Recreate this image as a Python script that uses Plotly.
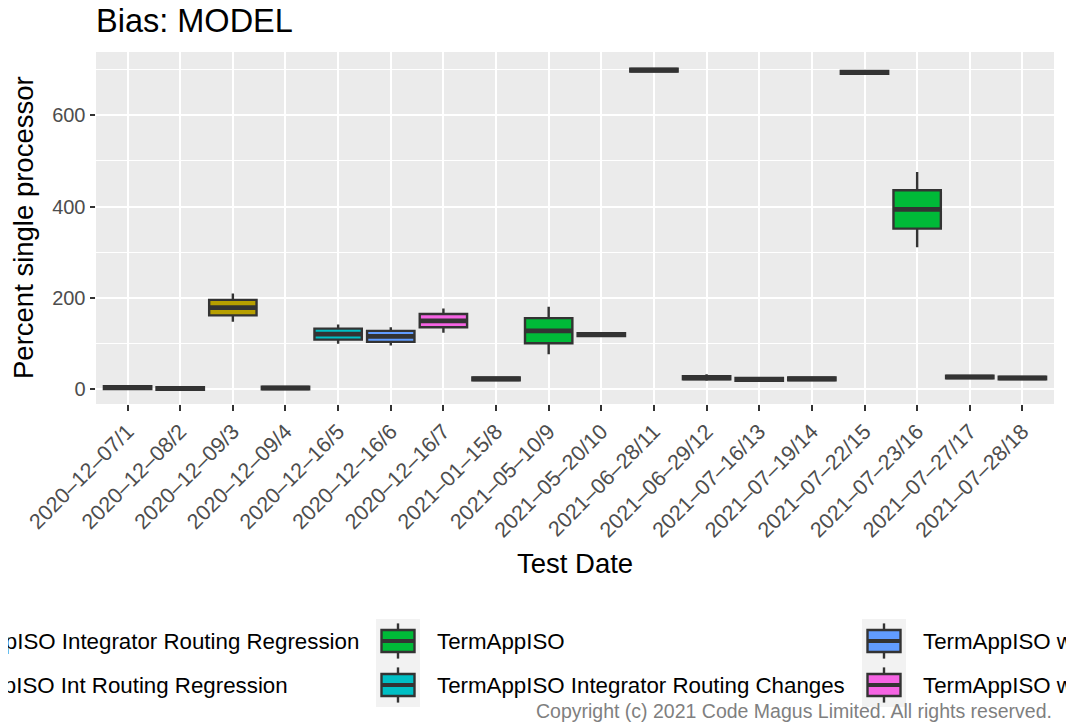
"""
Bias: MODEL - box plot of percent single processor per test date
"""
import plotly.graph_objects as go

# Данные
test_dates = ["2020–12–07/1", "2020–12–08/2", "2020–12–09/3", "2020–12–09/4",
              "2020–12–16/5", "2020–12–16/6", "2020–12–16/7", "2021–01–15/8",
              "2021–05–10/9", "2021–05–20/10", "2021–06–28/11", "2021–06–29/12",
              "2021–07–16/13", "2021–07–19/14", "2021–07–22/15", "2021–07–23/16",
              "2021–07–27/17", "2021–07–28/18"]
groups = ["TermAppISO Integrator Routing Regression", "TermAppISO Integrator Routing Regression",
          "TermAppISO Int Routing Regression", "TermAppISO Integrator Routing Regression",
          "TermAppISO Integrator Routing Changes", "TermAppISO with Integrator Routing",
          "TermAppISO with Int Routing Changes", "TermAppISO",
          "TermAppISO", "TermAppISO", "TermAppISO", "TermAppISO",
          "TermAppISO", "TermAppISO", "TermAppISO", "TermAppISO",
          "TermAppISO", "TermAppISO"]
lower = [1, -1, 148, 0, 100, 96, 124, 20, 77, 117, 696, 19, 19, 20, 691, 311, 24, 22]
q1 = [1, -1, 162, 0, 109, 104, 136, 20, 101, 117, 696, 22, 19, 20, 691, 352, 24, 22]
median = [4, 2, 179, 3, 121, 116, 150, 23, 128, 120, 699, 25, 22, 23, 694, 394, 27, 25]
q3 = [7, 5, 196, 6, 133, 128, 165, 26, 156, 123, 702, 29, 25, 26, 697, 436, 30, 28]
upper = [7, 5, 210, 6, 142, 136, 177, 26, 181, 123, 702, 33, 25, 26, 697, 476, 30, 28]

legend_labels = ["TermAppISO Integrator Routing Regression", "TermAppISO Int Routing Regression",
                 "TermAppISO", "TermAppISO Integrator Routing Changes",
                 "TermAppISO with Integrator Routing", "TermAppISO with Int Routing Changes"]
legend_colors = ["#F8766D", "#B79F00", "#00BA38", "#00BFC4", "#619CFF", "#F564E3"]

# Границы панели в пикселях экрана (страница сдвигает фигуру на 8px)
OFF = 8
PL, PR, PT, PB = 96, 1054, 52, 404
W, H = 1074, 725


def px(x):
    return (x - PL) / (PR - PL)


def py(y):
    return (PB - y) / (PB - PT)


LINE = "#333333"
fig = go.Figure()

# Ящики по группам
positions = list(range(1, len(test_dates) + 1))
for label, color in zip(legend_labels, legend_colors):
    idx = [i for i, g in enumerate(groups) if g == label]
    if not idx:
        continue
    fig.add_trace(go.Box(
        x=[positions[i] for i in idx],
        q1=[q1[i] for i in idx],
        median=[median[i] for i in idx],
        q3=[q3[i] for i in idx],
        lowerfence=[lower[i] for i in idx],
        upperfence=[upper[i] for i in idx],
        width=0.9,
        whiskerwidth=0,
        fillcolor=color,
        line=dict(color=LINE, width=2.4),
        boxpoints=False,
        name=label,
        showlegend=False,
        hoverinfo="skip",
    ))

# Медианы толще (как в ggplot)
mx, my = [], []
for p, m in zip(positions, median):
    mx += [p - 0.45, p + 0.45, None]
    my += [m, m, None]
fig.add_trace(go.Scatter(x=mx, y=my, mode="lines", line=dict(color=LINE, width=4.6),
                         showlegend=False, hoverinfo="skip"))

# Легенда вручную (обрезана по краям, как в оригинале)
shapes = []
annotations = []
KEY = 44
LEG_FONT = dict(size=22.3, color="black")
col_keys = [None, 376, 862]
col_text = [None, 435, 921]
row_top = [619, 663]
for k, (label, color) in enumerate(zip(legend_labels, legend_colors)):
    col, row = divmod(k, 2)
    ty = row_top[row]
    if col == 0:
        end_x = [361, 290][row]
        annotations.append(dict(x=px(end_x), y=py(ty + KEY / 2), xref="paper", yref="paper",
                                text=label, showarrow=False, xanchor="right", yanchor="middle",
                                font=LEG_FONT))
        continue
    kx = col_keys[col]
    cx = kx + KEY / 2
    if row == 0:
        shapes.append(dict(type="rect", xref="paper", yref="paper", x0=px(kx), x1=px(kx + KEY),
                           y0=py(row_top[0]), y1=py(row_top[1] + KEY),
                           fillcolor="#F2F2F2", line=dict(width=0), layer="below"))
    shapes.append(dict(type="line", xref="paper", yref="paper", x0=px(cx), x1=px(cx),
                       y0=py(ty + 0.1 * KEY), y1=py(ty + 0.9 * KEY),
                       line=dict(color=LINE, width=2.4)))
    shapes.append(dict(type="rect", xref="paper", yref="paper",
                       x0=px(cx - 0.375 * KEY), x1=px(cx + 0.375 * KEY),
                       y0=py(ty + 0.25 * KEY), y1=py(ty + 0.75 * KEY),
                       fillcolor=color, line=dict(color=LINE, width=2.4)))
    shapes.append(dict(type="line", xref="paper", yref="paper",
                       x0=px(cx - 0.375 * KEY), x1=px(cx + 0.375 * KEY),
                       y0=py(ty + 0.5 * KEY), y1=py(ty + 0.5 * KEY),
                       line=dict(color=LINE, width=4)))
    annotations.append(dict(x=px(col_text[col]), y=py(ty + KEY / 2), xref="paper", yref="paper",
                            text=label, showarrow=False, xanchor="left", yanchor="middle",
                            font=LEG_FONT))

# Подписи осей и копирайт
annotations.append(dict(x=px(23), y=0.5, xref="paper", yref="paper",
                        text="Percent single processor", textangle=-90, showarrow=False,
                        xanchor="center", yanchor="middle", font=dict(size=27.5, color="black")))
annotations.append(dict(x=0.5, y=py(563), xref="paper", yref="paper",
                        text="Test Date", showarrow=False,
                        xanchor="center", yanchor="middle", font=dict(size=27.5, color="black")))
annotations.append(dict(x=1, y=py(711), xref="paper", yref="paper",
                        text="Copyright (c) 2021 Code Magus Limited. All rights reserved.",
                        showarrow=False, xanchor="right", yanchor="middle",
                        font=dict(size=19.5, color="#7F7F7F")))

fig.update_layout(
    width=W, height=H,
    margin=dict(l=PL - OFF, r=W - (PR - OFF), t=PT - OFF, b=H - (PB - OFF)),
    paper_bgcolor="white",
    plot_bgcolor="#EBEBEB",
    font=dict(family="Liberation Sans, Arial, sans-serif", color="black"),
    title=dict(text="Bias: MODEL", x=px(96), xref="paper", xanchor="left",
               y=1 - (21 - OFF) / H, yanchor="middle", font=dict(size=32.5, color="black")),
    boxmode="overlay",
    shapes=shapes,
    annotations=annotations,
)
fig.update_xaxes(
    range=[0.4, len(test_dates) + 0.6],
    tickmode="array", tickvals=positions, ticktext=test_dates,
    tickangle=-45, tickfont=dict(size=21.5, color="#4D4D4D"),
    ticks="outside", ticklen=5.5, tickwidth=1.8, tickcolor=LINE,
    showgrid=True, gridcolor="white", gridwidth=2,
    zeroline=False, showline=False,
)
fig.update_yaxes(
    range=[-32, 738.6],
    tickvals=[0, 200, 400, 600],
    tickfont=dict(size=20, color="#4D4D4D"),
    ticks="outside", ticklen=5.5, tickwidth=1.8, tickcolor=LINE,
    showgrid=True, gridcolor="white", gridwidth=2,
    minor=dict(tickvals=[100, 300, 500, 700], showgrid=True, gridcolor="white", gridwidth=1, ticks=""),
    zeroline=False, showline=False,
)

fig.write_html("out.html")
